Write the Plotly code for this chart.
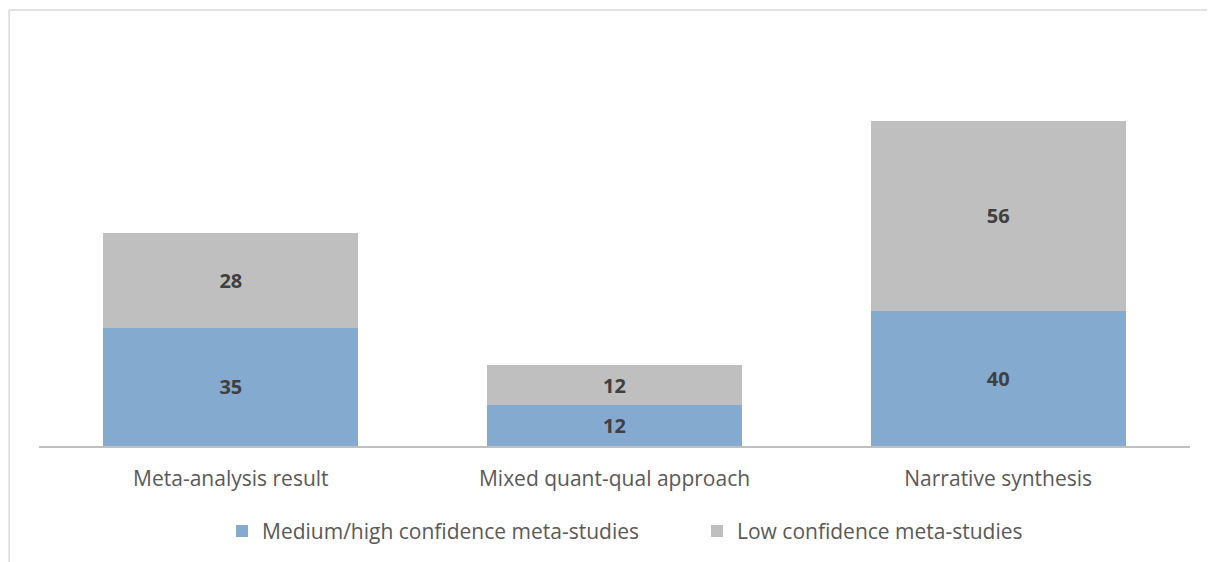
import plotly.graph_objects as go

categories = ["Meta-analysis result", "Mixed quant-qual approach", "Narrative synthesis"]
medium_high = [35, 12, 40]
low = [28, 12, 56]
series_names = ["Medium/high confidence meta-studies", "Low confidence meta-studies"]

FONT = "Open Sans, DejaVu Sans, sans-serif"
label_font = dict(family=FONT, size=20, color="#404040", weight="bold")

fig = go.Figure()
fig.add_trace(go.Bar(
    x=categories, y=medium_high, name=series_names[0],
    marker=dict(color="#84AACF", line=dict(width=0)),
    text=[str(v) for v in medium_high], textposition="inside", insidetextanchor="middle",
    textfont=label_font,
))
fig.add_trace(go.Bar(
    x=categories, y=low, name=series_names[1],
    marker=dict(color="#BFBFBF", line=dict(width=0)),
    text=[str(v) for v in low], textposition="inside", insidetextanchor="middle",
    textfont=label_font,
))

# page body has an 8px margin, so the figure is sized/placed to compensate
fig.update_layout(
    barmode="stack",
    bargap=0.336,
    width=1207, height=554,
    margin=dict(l=31, r=25, t=32, b=116, autoexpand=False),
    paper_bgcolor="white", plot_bgcolor="white",
    font=dict(family=FONT, color="#595959", size=21),
    showlegend=True,
    legend=dict(orientation="h", x=0.159, xanchor="left", y=-0.21, yanchor="middle",
                traceorder="normal", entrywidth=430,
                font=dict(size=21, color="#595959"), itemwidth=30, tracegroupgap=0),
    uniformtext=dict(mode="show", minsize=10),
    shapes=[
        dict(type="line", xref="paper", yref="paper", x0=-0.026, x1=-0.026, y0=-0.3, y1=1.0739,
             line=dict(color="#D9D9D9", width=1.5)),
        dict(type="line", xref="paper", yref="paper", x0=-0.026, x1=1.03, y0=1.0739, y1=1.0739,
             line=dict(color="#D9D9D9", width=1.5)),
    ],
)
fig.update_xaxes(showline=True, linecolor="#BFBFBF", linewidth=1.5, ticks="", showgrid=False,
                 tickfont=dict(size=21, color="#595959"), ticklabelstandoff=13)
fig.update_yaxes(range=[0, 120], visible=False, showgrid=False)

fig.write_html("out.html")
